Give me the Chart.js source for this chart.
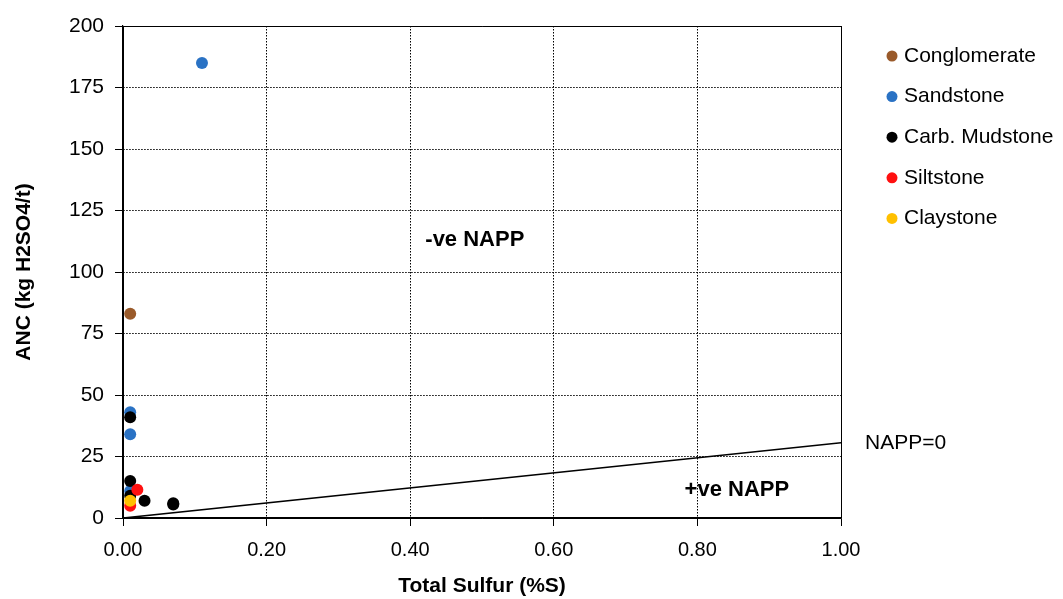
<!DOCTYPE html>
<html>
<head>
<meta charset="utf-8">
<script src="https://cdn.jsdelivr.net/npm/chart.js@4"></script>
<style>
  html, body { margin: 0; padding: 0; background: #fff; }
  #wrap { width: 1063px; height: 599px; }
</style>
</head>
<body>
<div id="wrap"><canvas id="grafico"></canvas></div>
<script>
// Datos: azufre total (%S) y ANC (kg H2SO4/t)
const conglomerado = [{ x: 0.01, y: 83 }];
const arenisca = [{ x: 0.11, y: 185 }, { x: 0.01, y: 43 }, { x: 0.01, y: 34 }, { x: 0.01, y: 11 }];
const lutitaCarb = [{ x: 0.01, y: 41 }, { x: 0.01, y: 15 }, { x: 0.01, y: 9 }, { x: 0.03, y: 7 }, { x: 0.07, y: 6 }, { x: 0.07, y: 5.5 }];
const limolita = [{ x: 0.02, y: 11.5 }, { x: 0.01, y: 5 }];
const arcillita = [{ x: 0.01, y: 7 }];

// Recta NAPP = 0 (ANC = 30.6 x %S)
const rectaNapp = [{ x: 0, y: 0 }, { x: 1, y: 30.6 }];

const xTicks = [0, 0.2, 0.4, 0.6, 0.8, 1.0];
const yTicks = [0, 25, 50, 75, 100, 125, 150, 175, 200];

const series = [
  { label: 'Conglomerate', data: conglomerado, color: '#9a5a2a', order: 5 },
  { label: 'Sandstone', data: arenisca, color: '#2a72c4', order: 4 },
  { label: 'Carb. Mudstone', data: lutitaCarb, color: '#000000', order: 3 },
  { label: 'Siltstone', data: limolita, color: '#ff1010', order: 2 },
  { label: 'Claystone', data: arcillita, color: '#ffc000', order: 1 }
];

const FUENTE = 'Arial, "Liberation Sans", sans-serif';

// Leyenda y textos dibujados a mano
const textosPlugin = {
  id: 'textos',
  afterDraw(chart) {
    const ctx = chart.ctx;
    const xs = chart.scales.x;
    const ys = chart.scales.y;
    const area = chart.chartArea;
    ctx.save();
    ctx.fillStyle = '#000';
    ctx.textBaseline = 'middle';

    ctx.font = 'bold 22px ' + FUENTE;
    ctx.textAlign = 'center';
    ctx.fillText('-ve NAPP', xs.getPixelForValue(0.49), ys.getPixelForValue(113));
    ctx.fillText('+ve NAPP', xs.getPixelForValue(0.855), ys.getPixelForValue(11.5));

    ctx.font = '21px ' + FUENTE;
    ctx.textAlign = 'left';
    ctx.fillText('NAPP=0', area.right + 24, ys.getPixelForValue(30.6));

    // leyenda
    ctx.font = '21px ' + FUENTE;
    series.forEach((s, i) => {
      const y = 56 + i * 40.6;
      ctx.beginPath();
      ctx.fillStyle = s.color;
      ctx.arc(892, y, 5.5, 0, Math.PI * 2);
      ctx.fill();
      ctx.fillStyle = '#000';
      ctx.fillText(s.label, 904, y);
    });
    ctx.restore();
  }
};

const datasets = series.map(s => ({
  type: 'scatter',
  label: s.label,
  data: s.data,
  order: s.order,
  backgroundColor: s.color,
  borderColor: s.color,
  pointRadius: 6,
  pointHoverRadius: 6,
  borderWidth: 0
}));

datasets.push({
  type: 'line',
  label: 'NAPP=0',
  data: rectaNapp,
  order: 0,
  borderColor: '#000',
  borderWidth: 1.6,
  pointRadius: 0,
  fill: false
});

new Chart(document.getElementById('grafico'), {
  data: { datasets: datasets },
  options: {
    responsive: true,
    maintainAspectRatio: false,
    animation: false,
    layout: { padding: { top: 26, right: 222, left: 0, bottom: 0 } },
    plugins: {
      legend: { display: false },
      tooltip: { enabled: false }
    },
    scales: {
      x: {
        type: 'linear',
        min: 0,
        max: 1,
        afterFit(scale) { scale.height = 81; },
        afterBuildTicks(scale) { scale.ticks = xTicks.map(v => ({ value: v })); },
        ticks: {
          color: '#000',
          font: { family: FUENTE, size: 20 },
          padding: 12,
          maxRotation: 0,
          callback: v => Number(v).toFixed(2)
        },
        grid: {
          color: '#000',
          lineWidth: 1,
          tickLength: 8,
          tickColor: '#000'
        },
        border: {
          color: '#000',
          width: 1.2,
          dash: ctx => (ctx.tick && (ctx.tick.value === 0 || ctx.tick.value === 1)) ? [] : [1.5, 1.5]
        },
        title: {
          display: true,
          text: 'Total Sulfur (%S)',
          color: '#000',
          font: { family: FUENTE, size: 21, weight: 'bold' },
          padding: { top: 0, bottom: 0 }
        }
      },
      y: {
        type: 'linear',
        min: 0,
        max: 200,
        afterFit(scale) { scale.width = 123; },
        afterBuildTicks(scale) { scale.ticks = yTicks.map(v => ({ value: v })); },
        ticks: {
          color: '#000',
          font: { family: FUENTE, size: 21 },
          padding: 11
        },
        grid: {
          color: '#000',
          lineWidth: 1,
          tickLength: 8,
          tickColor: '#000'
        },
        border: {
          color: '#000',
          width: 1.2,
          dash: ctx => (ctx.tick && (ctx.tick.value === 0 || ctx.tick.value === 200)) ? [] : [1.5, 1.5]
        },
        title: {
          display: true,
          text: 'ANC (kg H2SO4/t)',
          color: '#000',
          font: { family: FUENTE, size: 21, weight: 'bold' },
          padding: { top: 12, bottom: 0 }
        }
      }
    }
  },
  plugins: [textosPlugin]
});
</script>
</body>
</html>
